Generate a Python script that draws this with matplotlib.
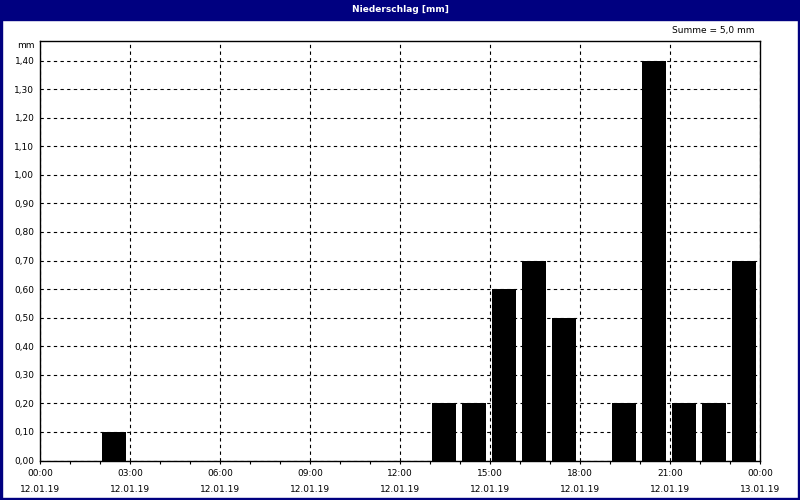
import matplotlib
matplotlib.use("Agg")
import matplotlib.pyplot as plt
from matplotlib.patches import Rectangle
from matplotlib.ticker import FuncFormatter, MultipleLocator
import numpy as np

# hourly precipitation, 12.01.19 00:00 - 13.01.19 00:00
hours = list(range(24))
precip = [0, 0, 0.1, 0, 0, 0, 0, 0, 0, 0, 0, 0, 0,
          0.2, 0.2, 0.6, 0.7, 0.5, 0, 0.2, 1.4, 0.2, 0.2, 0.7]
tick_hours = [0, 3, 6, 9, 12, 15, 18, 21, 24]
tick_times = ["00:00", "03:00", "06:00", "09:00", "12:00", "15:00", "18:00", "21:00", "00:00"]
tick_dates = ["12.01.19"] * 8 + ["13.01.19"]
title = "Niederschlag [mm]"
summe = "Summe = 5,0 mm"

navy = "#000080"
fs = 6.5

fig = plt.figure(figsize=(8, 5), dpi=100)
fig.patch.set_facecolor("white")

# navy frame and title bar (figure pixel coords)
W, H = 800, 500
def px_rect(x0, y0, w, h):
    fig.patches.append(Rectangle((x0 / W, 1 - (y0 + h) / H), w / W, h / H,
                                 transform=fig.transFigure, color=navy, zorder=0))
px_rect(0, 0, 800, 20)
px_rect(0, 0, 2, 500)
px_rect(798, 0, 2, 500)
px_rect(0, 498, 800, 2)
fig.text(0.5, 1 - 9.5 / H, title, color="white", fontsize=fs, fontweight="bold",
         ha="center", va="center")

ax = fig.add_axes([40 / W, 1 - 460.5 / H, 720 / W, 420 / H])
ax.bar(np.array(hours) + 0.075, precip, width=0.8, align="edge", color="black", zorder=3)

ax.set_xlim(0, 24)
ax.set_ylim(0, 1.47)
ax.yaxis.set_major_locator(MultipleLocator(0.1))
ax.yaxis.set_major_formatter(FuncFormatter(lambda v, p: f"{v:.2f}".replace(".", ",")))
ax.set_xticks(tick_hours)
ax.set_xticklabels([f"{t}\n{d}" for t, d in zip(tick_times, tick_dates)], linespacing=2.05)
ax.set_xticks(hours, minor=True)

ax.grid(True, which="major", color="black", linestyle=(0, (3, 3)), linewidth=0.8, zorder=1)
ax.tick_params(axis="x", which="both", length=2, width=0.8, direction="out", labelsize=fs, pad=4)
ax.tick_params(axis="y", length=0, labelsize=fs, pad=4)
for sp in ax.spines.values():
    sp.set_linewidth(1)
    sp.set_color("black")

fig.text(35 / W, 1 - 45 / H, "mm", fontsize=fs, ha="right", va="center")
fig.text(755 / W, 1 - 31 / H, summe, fontsize=fs, ha="right", va="center")

fig.savefig("out.png", dpi=100, facecolor=fig.get_facecolor())
